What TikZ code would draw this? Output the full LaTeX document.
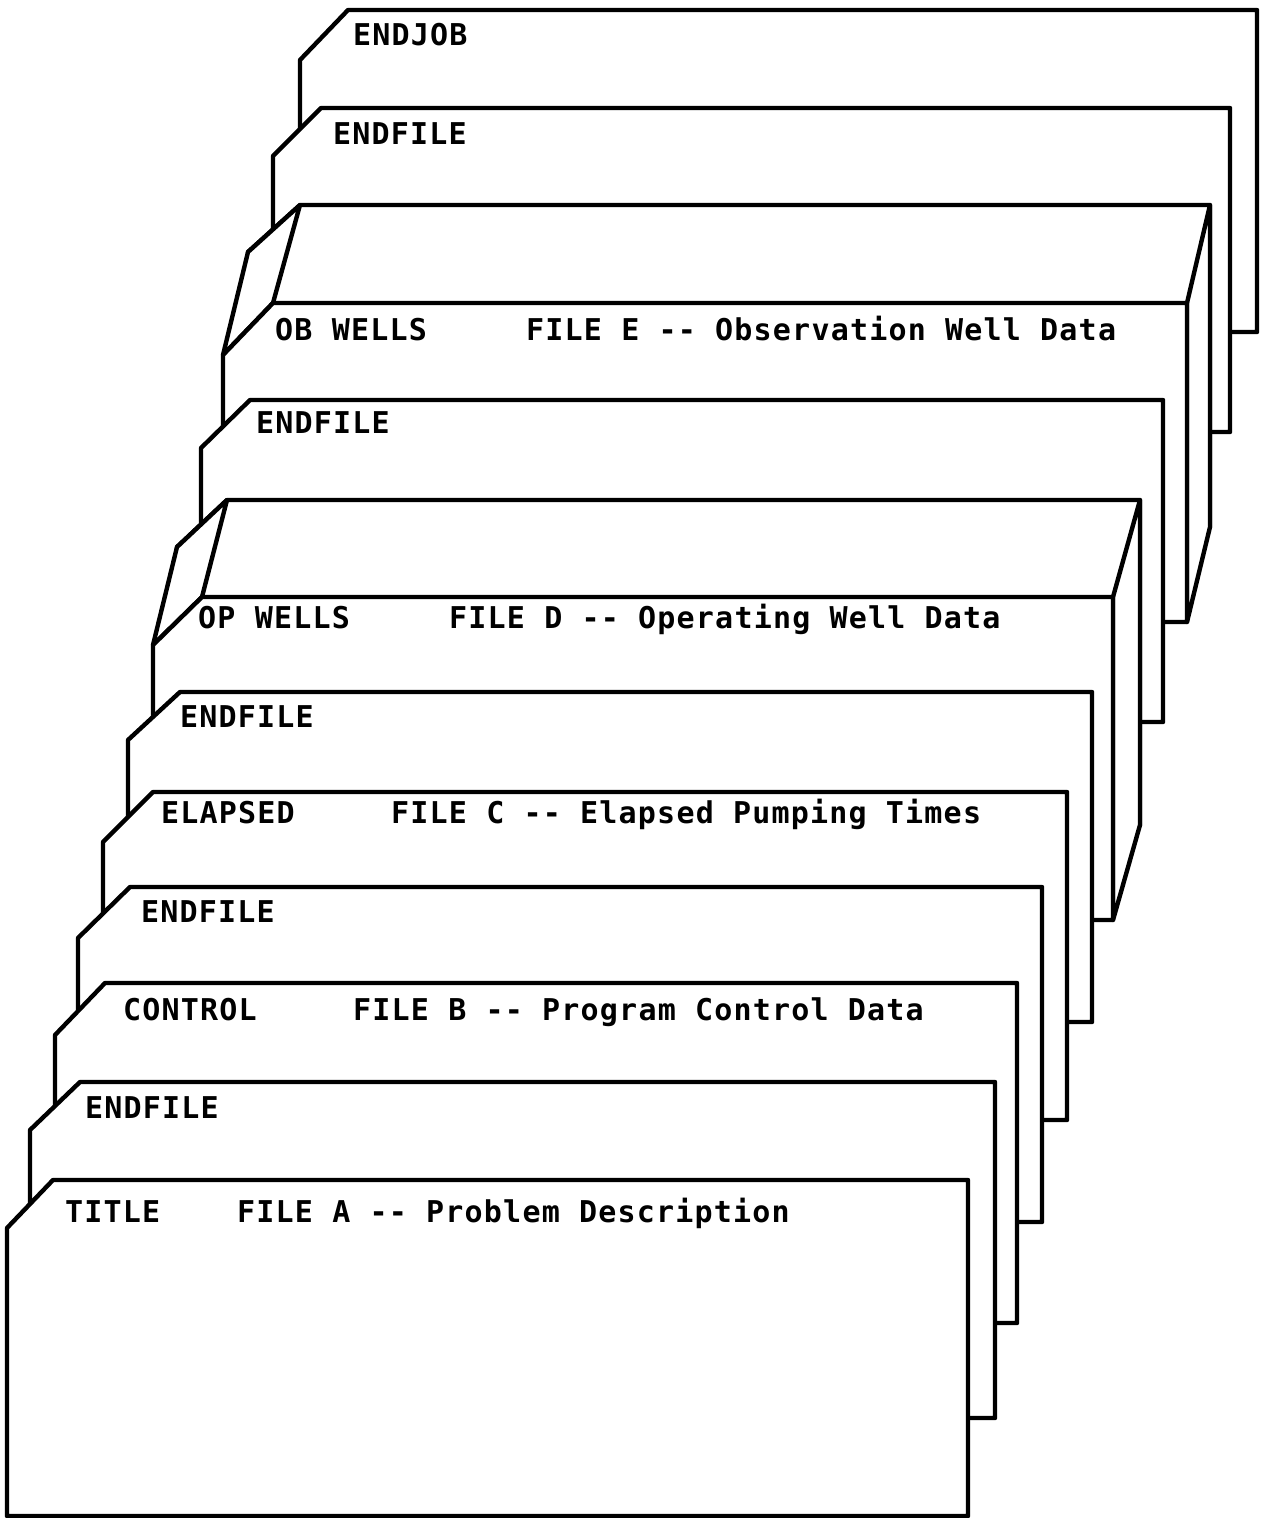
\documentclass[tikz,border=0pt]{standalone}
\usepackage{fontspec}
\usepackage{tikz}
\newfontfamily\cardfont[LetterSpace=4]{DejaVu Sans Mono Bold}
\tikzset{
  card/.style={draw=black, fill=white, line width=4.4pt, line join=round},
  deckside/.style={draw=black, fill=white, line width=4.4pt, line join=round},
  lbl/.style={anchor=base west, inner sep=0pt, font=\cardfont\fontsize{30}{36}\selectfont}
}
\begin{document}
\begin{tikzpicture}[x=1pt, y=-1pt]
  \useasboundingbox (0,0) rectangle (1265,1518);
  % cards, back to front
  \draw[card] (348,10) -- (1257,10) -- (1257,332) -- (300,332) -- (300,60) -- cycle;
  \draw[card] (321,108) -- (1230,108) -- (1230,432) -- (273,432) -- (273,156) -- cycle;
  % file E deck
  \draw[card] (300,205) -- (1210,205) -- (1210,527) -- (248,527) -- (248,252) -- cycle;
  \draw[deckside] (300,205) -- (273,303) -- (223,355) -- (248,252) -- cycle;
  \draw[deckside] (1210,205) -- (1187,303) -- (1187,622) -- (1210,527) -- cycle;
  \draw[card] (273,303) -- (1187,303) -- (1187,622) -- (223,622) -- (223,355) -- cycle;
  \draw[card] (250,400) -- (1163,400) -- (1163,722) -- (201,722) -- (201,448) -- cycle;
  % file D deck
  \draw[card] (227,500) -- (1140,500) -- (1140,825) -- (177,825) -- (177,547) -- cycle;
  \draw[deckside] (227,500) -- (202,597) -- (153,645) -- (177,547) -- cycle;
  \draw[deckside] (1140,500) -- (1113,597) -- (1113,920) -- (1140,825) -- cycle;
  \draw[card] (202,597) -- (1113,597) -- (1113,920) -- (153,920) -- (153,645) -- cycle;
  \draw[card] (180,692) -- (1092,692) -- (1092,1022) -- (128,1022) -- (128,740) -- cycle;
  \draw[card] (153,792) -- (1067,792) -- (1067,1120) -- (103,1120) -- (103,842) -- cycle;
  \draw[card] (130,887) -- (1042,887) -- (1042,1222) -- (78,1222) -- (78,938) -- cycle;
  \draw[card] (105,983) -- (1017,983) -- (1017,1323) -- (55,1323) -- (55,1035) -- cycle;
  \draw[card] (80,1082) -- (995,1082) -- (995,1418) -- (30,1418) -- (30,1130) -- cycle;
  \draw[card] (53,1180) -- (968,1180) -- (968,1516) -- (7,1516) -- (7,1228) -- cycle;
  % labels
  \node[lbl] (endjob) at (353,45) {ENDJOB};
  \node[lbl] (endfileE) at (333,144) {ENDFILE};
  \node[lbl] (obwells) at (275,340) {OB WELLS};
  \node[lbl] (fileE) at (526,340) {FILE E -{}- Observation Well Data};
  \node[lbl] (endfileD) at (256,433) {ENDFILE};
  \node[lbl] (opwells) at (198,628) {OP WELLS};
  \node[lbl] (fileD) at (449,628) {FILE D -{}- Operating Well Data};
  \node[lbl] (endfileC) at (180,727) {ENDFILE};
  \node[lbl] (elapsed) at (161,823) {ELAPSED};
  \node[lbl] (fileC) at (391,823) {FILE C -{}- Elapsed Pumping Times};
  \node[lbl] (endfileB) at (141,922) {ENDFILE};
  \node[lbl] (control) at (123,1020) {CONTROL};
  \node[lbl] (fileB) at (353,1020) {FILE B -{}- Program Control Data};
  \node[lbl] (endfileA) at (85,1118) {ENDFILE};
  \node[lbl] (title) at (65,1222) {TITLE};
  \node[lbl] (fileA) at (237,1222) {FILE A -{}- Problem Description};
\end{tikzpicture}
\end{document}
